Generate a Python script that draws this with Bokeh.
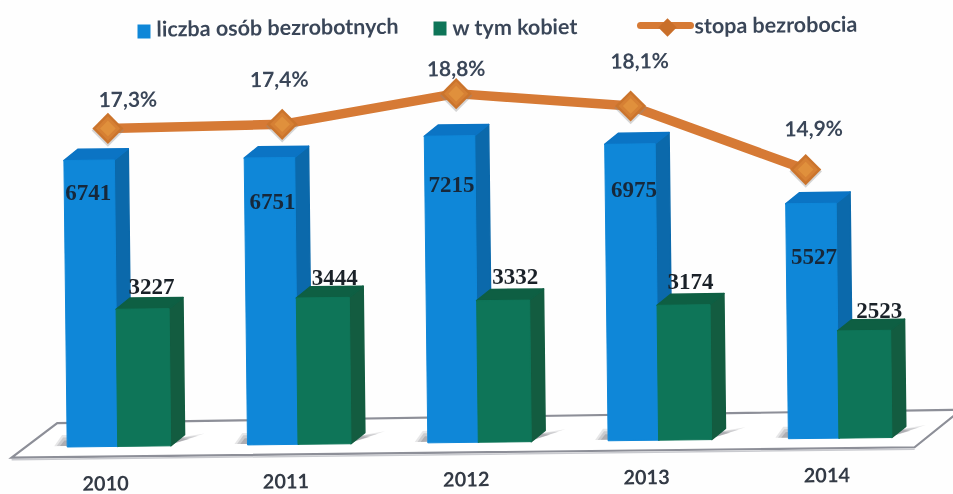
from bokeh.plotting import figure
from bokeh.models import Range1d, ColumnDataSource
from bokeh.core.properties import value
from bokeh.embed import file_html
from bokeh.resources import INLINE

# ---- data ----
years = ["2010", "2011", "2012", "2013", "2014"]
unemployed = [6741, 6751, 7215, 6975, 5527]
women = [3227, 3444, 3332, 3174, 2523]
rate = [17.3, 17.4, 18.8, 18.1, 14.9]
rate_labels = ["17,3%", "17,4%", "18,8%", "18,1%", "14,9%"]
legend_names = ["liczba osób bezrobotnych", "w tym kobiet", "stopa bezrobocia"]

# ---- layout ----
W, H = 953, 494
PX_PER_VAL = 0.0425      # pixels per person
PX_PER_RATE = 20.5       # pixels per percentage point
BASE_Y = 446.5           # picture row of the bar base at X0
X0, PITCH = 66.7, 180.3
LINE_X0, LINE_PITCH = 107.0, 174.3
BW, GW = 50.5, 53.0
DX, DY = 14.0, 11.0      # depth of the 3D look
THETA = 0.0115           # the scan is slightly rotated
RATE_PX0 = 483.5 - 0.5   # picture row of rate = 0
SANS = "Lato"

val_lo = (BASE_Y - H) / PX_PER_VAL
val_hi = BASE_Y / PX_PER_VAL
p = figure(width=W, height=H, margin=(0, 0, 0, 0), output_backend="svg", toolbar_location=None,
           x_range=Range1d(0, W), y_range=Range1d(val_lo, val_hi), min_border=0,
           outline_line_color=None, background_fill_color="#fefefe", border_fill_color="#fefefe",
           styles={"position": "fixed", "left": "0px", "top": "0px", "filter": "blur(0.6px)"})
p.extra_y_ranges = {"rate": Range1d((RATE_PX0 - H) / PX_PER_RATE, RATE_PX0 / PX_PER_RATE)}
p.xaxis.visible = False
p.yaxis.visible = False
p.grid.visible = False


def place(u, val):
    """rotate a (column, persons) point by the tilt of the scan"""
    return u - THETA * val * PX_PER_VAL, val + THETA * (u - X0) / PX_PER_VAL


def place_rate(u, r):
    return u - THETA * (r * PX_PER_RATE - (RATE_PX0 - BASE_Y)), r + THETA * (u - X0) / PX_PER_RATE


def poly(points):
    pts = [place(a, b) for a, b in points]
    return [q[0] for q in pts], [q[1] for q in pts]


def dv(px):
    return px / PX_PER_VAL


# floor
fl = poly([(11, dv(-10)), (914, dv(-10)), (961, dv(27)), (57, dv(24))])
p.patch(fl[0], fl[1], fill_color="#ffffff", line_color="#8d8f98", line_width=2.2, line_join="miter")
fl2 = poly([(11, dv(-12)), (914, dv(-12))])
p.line(fl2[0], fl2[1], line_color="#c9cacf", line_width=1.5)

# shadows
for grow, alpha in [(1.0, 0.16), (0.8, 0.22), (0.55, 0.3)]:
    xs, ys = [], []
    for i in range(5):
        u = X0 + i * PITCH
        a = poly([(u + BW + GW - 1, dv(1)), (u + BW + GW + 34 * grow, dv(12 * grow)), (u + BW + GW + 8, dv(8))])
        b = poly([(u, dv(1)), (u - 13 * grow, dv(1)), (u - 5 * grow, dv(12 * grow)), (u, dv(12 * grow))])
        xs += [a[0], b[0]]
        ys += [a[1], b[1]]
    p.patches(xs, ys, fill_color="#6a6a72", fill_alpha=alpha, line_color=None)


def bars(vals, offset, width, front, side, top):
    fx, fy, sx, sy, tx, ty = [], [], [], [], [], []
    for i, v in enumerate(vals):
        u = X0 + i * PITCH + offset
        s = poly([(u + width, 0), (u + width + DX, dv(DY)), (u + width + DX, v + dv(DY)), (u + width, v)])
        t = poly([(u, v), (u + width, v), (u + width + DX, v + dv(DY)), (u + DX, v + dv(DY))])
        f = poly([(u, 0), (u + width, 0), (u + width, v), (u, v)])
        sx.append(s[0]); sy.append(s[1]); tx.append(t[0]); ty.append(t[1]); fx.append(f[0]); fy.append(f[1])
    p.patches(sx, sy, fill_color=side, line_color=side, line_width=1.5, line_join="round")
    p.patches(tx, ty, fill_color=top, line_color=top, line_width=1.5, line_join="round")
    p.patches(fx, fy, fill_color=front, line_color=front, line_width=1, line_join="round")


bars(unemployed, 0, BW, "#0f87d8", "#0b69ab", "#0b74c4")
bars(women, BW, GW, "#0e7558", "#135c40", "#0e5f43")

# rate line
cols = [LINE_X0 + i * LINE_PITCH for i in range(5)]
rp = [place_rate(c, r) for c, r in zip(cols, rate)]
rx = [q[0] + THETA * (RATE_PX0 - 129) for q in rp]
ry = [q[1] for q in rp]
p.line(rx, ry, y_range_name="rate", line_color="#d67a35", line_width=9.5, line_join="round")
shadow = ColumnDataSource(dict(x=rx, y=[v - 2 / PX_PER_RATE for v in ry]))
markers = ColumnDataSource(dict(x=rx, y=ry))
QUARTER = 0.7853981634
p.scatter("x", "y", source=shadow, y_range_name="rate", marker="square", size=23, angle=QUARTER,
          fill_color="#8a8a8a", fill_alpha=0.35, line_color=None)
p.scatter("x", "y", source=markers, y_range_name="rate", marker="square", size=22, angle=QUARTER,
          fill_color="#cb742c", line_color=None)
p.scatter("x", "y", source=markers, y_range_name="rate", marker="square", size=17, angle=QUARTER,
          fill_color="#d68034", line_color=None)
p.scatter("x", "y", source=markers, y_range_name="rate", marker="square", size=11, angle=QUARTER,
          fill_color="#e0903c", line_color=None)

# value labels
blue_off_x = [-1, 3, 2, 4, 3]
blue_off_y = [32, 44, 49, 45, 53]
green_off_x = [9, 12, 12, 7, 15]
green_off_y = [-22, -20, -24, -23, -20]
lx, ly = [], []
for i, v in enumerate(unemployed):
    a = place(X0 + i * PITCH + BW / 2, v)
    lx.append(a[0]); ly.append(a[1])
p.text(lx, ly, text=[str(v) for v in unemployed], x_offset=blue_off_x, y_offset=blue_off_y,
       text_font=value("Liberation Serif"), text_font_style="bold", text_font_size="23px",
       text_color="#17283a", text_align="center", text_baseline="middle")
lx, ly = [], []
for i, v in enumerate(women):
    a = place(X0 + i * PITCH + BW + GW / 2, v)
    lx.append(a[0]); ly.append(a[1])
p.text(lx, ly, text=[str(v) for v in women], x_offset=green_off_x, y_offset=green_off_y,
       text_font=value("Liberation Serif"), text_font_style="bold", text_font_size="23px",
       text_color="#1a2128", text_align="center", text_baseline="middle")

rate_off_x = [20, -3, 0, 9, 8]
rate_off_y = [-30, -46, -26, -46, -42]
p.text(rx, ry, y_range_name="rate", text=rate_labels, x_offset=rate_off_x, y_offset=rate_off_y,
       text_font=value(SANS), text_font_style="bold", text_font_size="21px",
       text_color="#3a4658", text_align="center", text_baseline="middle", angle=THETA)

# year labels
yx, yy = [], []
for i in range(5):
    a = place(X0 + i * PITCH + 38, dv(-36.5))
    yx.append(a[0]); yy.append(a[1])
p.text(yx, yy, text=years, text_font=value(SANS), text_font_style="bold", text_font_size="20px",
       text_color="#333a45", text_align="center", text_baseline="middle", angle=THETA)

# legend
def vpos(row):
    return (BASE_Y - row) / PX_PER_VAL


p.patch([137, 150, 150, 137], [vpos(24), vpos(24), vpos(38), vpos(38)], fill_color="#0f87d8", line_color=None)
p.patch([433, 446, 446, 433], [vpos(21), vpos(21), vpos(35), vpos(35)], fill_color="#0e7558", line_color=None)
p.line([640, 690], [vpos(25), vpos(25)], line_color="#d67a35", line_width=7, line_cap="round")
p.scatter([667], [vpos(27)], marker="square", size=13, angle=QUARTER, fill_color="#c96f2a", line_color=None)
p.text([156, 452, 694], [vpos(28), vpos(27), vpos(25)], text=legend_names,
       text_font=value(SANS), text_font_style="bold", text_font_size="21.5px",
       text_color="#3a4658", text_align="left", text_baseline="middle", angle=THETA)

open("out.html", "w").write(file_html(p, INLINE))
